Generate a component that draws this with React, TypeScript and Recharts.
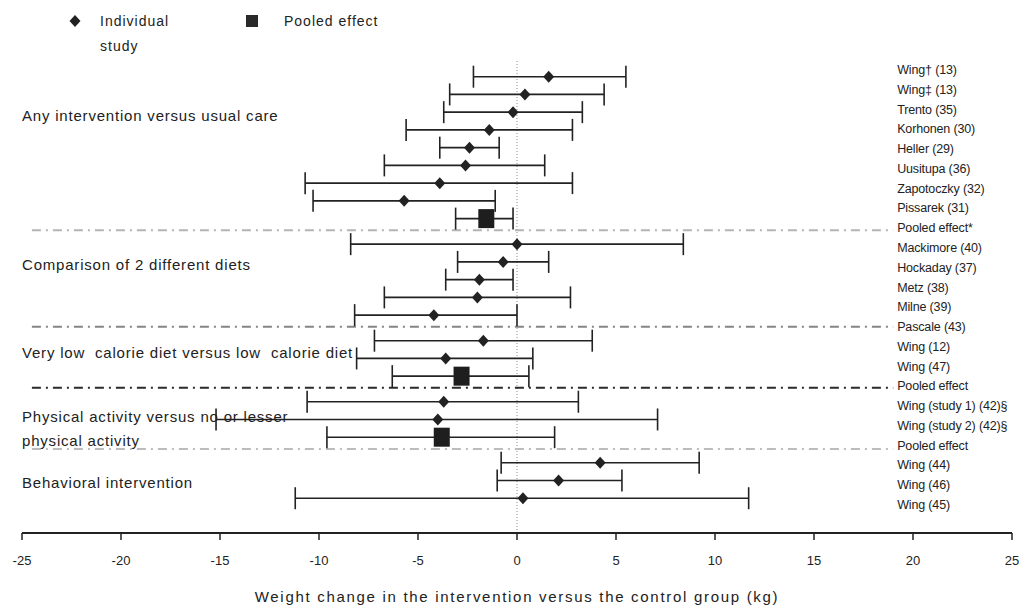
import React from 'react'
import { ComposedChart, Scatter, ErrorBar, XAxis, YAxis, ReferenceLine } from 'recharts'

// study rows, top to bottom
const studyNames = [
  'Wing† (13)', 'Wing‡ (13)', 'Trento (35)', 'Korhonen (30)', 'Heller (29)', 'Uusitupa (36)',
  'Zapotoczky (32)', 'Pissarek (31)', 'Pooled effect*',
  'Mackimore (40)', 'Hockaday (37)', 'Metz (38)', 'Milne (39)', 'Pascale (43)',
  'Wing (12)', 'Wing (47)', 'Pooled effect',
  'Wing (study 1) (42)§', 'Wing (study 2) (42)§', 'Pooled effect',
  'Wing (44)', 'Wing (46)', 'Wing (45)',
]
const estimates = [1.6, 0.4, -0.2, -1.4, -2.4, -2.6, -3.9, -5.7, -1.55, 0.0, -0.7, -1.9, -2.0, -4.2, -1.7, -3.6, -2.8, -3.7, -4.0, -3.8, 4.2, 2.1, 0.3]
const lowerLimits = [-2.2, -3.4, -3.7, -5.6, -3.9, -6.7, -10.7, -10.3, -3.1, -8.4, -3.0, -3.6, -6.7, -8.2, -7.2, -8.1, -6.3, -10.6, -15.2, -9.6, -0.8, -1.0, -11.2]
const upperLimits = [5.5, 4.4, 3.3, 2.8, -0.9, 1.4, 2.8, -1.1, -0.2, 8.4, 1.6, -0.2, 2.7, 0.0, 3.8, 0.8, 0.6, 3.1, 7.1, 1.9, 9.2, 5.3, 11.7]
const groupIndex = [0, 0, 0, 0, 0, 0, 0, 0, 0, 1, 1, 1, 1, 1, 2, 2, 2, 3, 3, 3, 4, 4, 4]
const isPooled = [false, false, false, false, false, false, false, false, true, false, false, false, false, false, false, false, true, false, false, true, false, false, false]

const groupTitles = [
  ['Any intervention versus usual care'],
  ['Comparison of 2 different diets'],
  ['Very low  calorie diet versus low  calorie diet'],
  ['Physical activity versus no or lesser', 'physical activity'],
  ['Behavioral intervention'],
]
const xTicks = [-25, -20, -15, -10, -5, 0, 5, 10, 15, 20, 25]
const axisTitle = 'Weight change in the intervention versus the control group (kg)'

const FONT = "'Liberation Sans', Arial, sans-serif"
const INK = '#222'
const GROUP_GAP = 0.44
const TITLE_OFFSET = [2.15, 1.12, 0.64, 0.81, 1.09]
const NAME_COLUMN_X = 19.2
const SEPARATOR_STYLES = [
  { stroke: '#b4b4b4', dash: '9 5 2 5' },
  { stroke: '#858585', dash: '9 5 2 5' },
  { stroke: '#2a2a2a', dash: '9 5 2 5' },
  { stroke: '#bcbcbc', dash: '9 5 2 5' },
]

const rows = studyNames.map((name, i) => ({
  name,
  x: estimates[i],
  y: i + GROUP_GAP * groupIndex[i],
  err: [estimates[i] - lowerLimits[i], upperLimits[i] - estimates[i]],
  pooled: isPooled[i],
}))
const studyRows = rows.filter((r) => !r.pooled)
const pooledRows = rows.filter((r) => r.pooled)

// right-hand name column is evenly spaced, not aligned with the rows
const nameRows = studyNames.map((name, i) => ({ x: NAME_COLUMN_X, y: i, name }))

const groupLabelRows = groupTitles.map((lines, g) => {
  const first = rows.findIndex((_, i) => groupIndex[i] === g)
  return { x: -25, y: rows[first].y + TITLE_OFFSET[g], lines }
})

const separators = groupTitles.slice(0, -1).map((_, g) => {
  const last = groupIndex.lastIndexOf(g)
  return rows[last].y + 0.66
})

const Diamond = (props: any) => {
  const { cx, cy } = props
  return <polygon points={`${cx},${cy - 6} ${cx + 5.5},${cy} ${cx},${cy + 6} ${cx - 5.5},${cy}`} fill={INK} />
}

const PooledSquare = (props: any) => {
  const { cx, cy } = props
  return <rect x={cx - 8} y={cy - 9.5} width={16} height={19} fill="#1e1e1e" />
}

const GroupTitle = (props: any) => {
  const { cx, cy, payload } = props
  return (
    <text x={cx} y={cy} fill={INK} fontSize={15} fontFamily={FONT} letterSpacing={0.8} dominantBaseline="central" style={{ whiteSpace: 'pre' }}>
      {payload.lines.map((line: string, k: number) => (
        <tspan key={k} x={cx} dy={k === 0 ? 0 : 24}>{line}</tspan>
      ))}
    </text>
  )
}

const NameLabel = (props: any) => {
  const { cx, cy, payload } = props
  return (
    <text x={cx} y={cy} fill={INK} fontSize={12.5} fontFamily={FONT} letterSpacing={-0.15} dominantBaseline="central">
      {payload.name}
    </text>
  )
}

const AxisTitle = (props: any) => {
  const { viewBox } = props
  return (
    <text
      x={viewBox.x + viewBox.width / 2}
      y={viewBox.y + viewBox.height - 9}
      textAnchor="middle"
      dominantBaseline="central"
      fill={INK}
      fontSize={15}
      fontFamily={FONT}
      letterSpacing={1.7}
    >
      {axisTitle}
    </text>
  )
}

function LegendBox() {
  const txt = { position: 'absolute' as const, fontFamily: FONT, fontSize: 14, color: INK, letterSpacing: 1, lineHeight: '16px' }
  return (
    <div style={{ position: 'absolute', left: 0, top: 0, width: 420, height: 60 }}>
      <svg width={420} height={60} style={{ position: 'absolute', left: 0, top: 0 }}>
        <polygon points="75,15 80.5,21 75,27 69.5,21" fill={INK} />
        <rect x={246} y={15} width={12} height={12} fill="#2a2a2a" />
      </svg>
      <div style={{ ...txt, left: 100, top: 13 }}>Individual</div>
      <div style={{ ...txt, left: 100, top: 38 }}>study</div>
      <div style={{ ...txt, left: 284, top: 13 }}>Pooled effect</div>
    </div>
  )
}

export default function App() {
  return (
    <div style={{ position: 'absolute', left: 0, top: 0, width: 1019, height: 610, background: '#fff' }}>
      <ComposedChart width={1019} height={610} margin={{ top: 60, right: 7, left: 22, bottom: 5 }}>
        <XAxis
          type="number"
          dataKey="x"
          domain={[-25, 25]}
          ticks={xTicks}
          allowDataOverflow
          height={72}
          tickSize={7}
          tickMargin={16}
          axisLine={{ stroke: INK, strokeWidth: 2 }}
          tickLine={{ stroke: INK, strokeWidth: 1.5 }}
          tick={{ fill: INK, fontSize: 13, fontFamily: FONT }}
          label={{ content: AxisTitle }}
        />
        <YAxis yAxisId="rows" type="number" dataKey="y" domain={[-0.94, 25.72]} reversed hide allowDataOverflow />
        <YAxis yAxisId="names" type="number" dataKey="y" domain={[-0.51, 23.42]} reversed hide allowDataOverflow />
        <Scatter yAxisId="rows" data={groupLabelRows} shape={GroupTitle} isAnimationActive={false} />
        <Scatter yAxisId="names" data={nameRows} shape={NameLabel} isAnimationActive={false} />
        <ReferenceLine yAxisId="rows" x={0} stroke="#8a8a8a" strokeDasharray="1 2" strokeWidth={1} />
        {separators.map((s, g) => (
          <ReferenceLine
            key={g}
            yAxisId="rows"
            segment={[{ x: -24.5, y: s }, { x: 19, y: s }]}
            stroke={SEPARATOR_STYLES[g].stroke}
            strokeDasharray={SEPARATOR_STYLES[g].dash}
            strokeWidth={2}
          />
        ))}
        <Scatter yAxisId="rows" data={studyRows} shape={Diamond} isAnimationActive={false}>
          <ErrorBar dataKey="err" direction="x" width={11} stroke={INK} strokeWidth={1.6} isAnimationActive={false} />
        </Scatter>
        <Scatter yAxisId="rows" data={pooledRows} shape={PooledSquare} isAnimationActive={false}>
          <ErrorBar dataKey="err" direction="x" width={11} stroke={INK} strokeWidth={1.6} isAnimationActive={false} />
        </Scatter>
      </ComposedChart>
      <LegendBox />
    </div>
  )
}
